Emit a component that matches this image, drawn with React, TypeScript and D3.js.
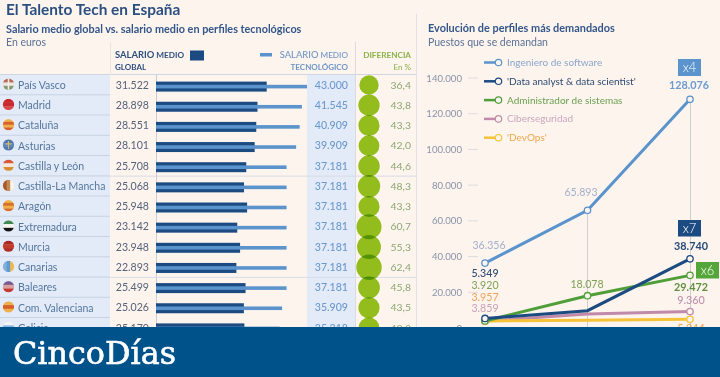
import React from "react";
import * as d3 from "d3";

const regions = ["País Vasco","Madrid","Cataluña","Asturias","Castilla y León","Castilla-La Mancha","Aragón","Extremadura","Murcia","Canarias","Baleares","Com. Valenciana","Galicia"];
const globalSalary = [31522,28898,28551,28101,25708,25068,25948,23142,23948,22893,25499,25026,25170];
const techSalary = [43000,41545,40909,39909,37181,37181,37181,37181,37181,37181,37181,35909,35218];
const diffPct = [36.4,43.8,43.3,42.0,44.6,48.3,43.3,60.7,55.3,62.4,45.8,43.5,42.3];
const flagStripes = [
  ["#b9664e","#d8d2c4","#7f9a70"],["#c8282e","#c8282e","#d84a4a"],["#eeb04a","#d8602a","#eeb04a","#d8602a"],
  ["#4f78b0","#5f88c0","#4f78b0"],["#d9583a","#f6e6dc","#d98a2e"],["#a8562e","#c08a50","#fbf4ea"],
  ["#eeb04a","#d8702a","#eeb04a","#d8702a"],["#3f8a50","#f8f6f0","#141414"],["#a82a24","#c23c2c","#b03028"],
  ["#7fb0dc","#5f9ad0","#eeb84a"],["#7a5a90","#d8a0a0","#c83a30"],["#eeb04a","#d8602a","#eeb04a"],["#f4f4f4","#8ab8e0","#f4f4f4"],
];
const flagVertical = [false,false,false,false,false,true,false,false,false,true,false,false,false];
const salaryLabel = (v:number)=>d3.format(",")(v).replace(/,/g,".");

const yTicks = [0,20000,40000,60000,80000,100000,120000,140000];
const xSteps = ["a","b","c"];
const software = [36356,65893,128076];
const dataAnalyst = [5349,9700,38740];
const sysAdmin = [3920,18078,29472];
const cyber = [3859,7800,9200];
const devops = [3957,4400,4900];
const legendNames = ["Ingeniero de software","'Data analyst & data scientist'","Administrador de sistemas","Ciberseguridad","'DevOps'"];

const BLUE="#5b93cc", NAVY="#1c4b82", GREEN="#4f9e3a", PINK="#c08aa8", YEL="#f6c338";
const BG="#fdf4ee";
const FONT="Lato, 'Open Sans', sans-serif";

export default function App(){
  const rowY = d3.scaleLinear().domain([0,12]).range([85,328]);
  const barY = d3.scaleLinear().domain([0,12]).range([86.6,328.4]);
  const barX = d3.scaleLinear().domain([0,43000]).range([156,307]);
  const rad = d3.scaleSqrt().domain([0,36.4]).range([0,9.7]);
  const y = d3.scaleLinear().domain([0,140000]).range([328,78]);
  const x = d3.scalePoint().domain(xSteps).range([485,690]);
  const line = d3.line<number>().x((_,i)=>x(xSteps[i])!).y(d=>y(d));
  const series = [
    {v:cyber,c:PINK},{v:devops,c:YEL},{v:sysAdmin,c:GREEN},{v:software,c:BLUE},{v:dataAnalyst,c:NAVY},
  ];
  const legendCols=[BLUE,NAVY,GREEN,PINK,YEL];
  const legendText=["#8aa6cc","#2c4a70","#6aa050","#c8a8bc","#eda848"];
  return (
    <svg width={720} height={377} style={{position:"absolute",left:0,top:0,fontFamily:FONT}}>
      <defs>
        {regions.map((r,i)=><clipPath key={r} id={`flag${i}`}><circle cx={8.5} cy={rowY(i)-0.8} r={5.6}/></clipPath>)}
      </defs>
      <rect width={720} height={377} fill={BG}/>
      <rect x={0} y={75} width={110} height={260} fill="#e2ebf7"/>
      <rect x={307} y={75} width={48} height={260} fill="#e2ebf7"/>
      <line x1={0} x2={417} y1={74.5} y2={74.5} stroke="#cfd6e2"/>
      {regions.map((_,i)=> i>0 && <line key={i} x1={0} x2={110} y1={rowY(i)-10.5} y2={rowY(i)-10.5} stroke="#c8d3e4"/>)}
      {[4.5,9.5].map(i=><line key={i} x1={0} x2={417} y1={rowY(i)} y2={rowY(i)} stroke="#d8dde6"/>)}
      <line x1={156.5} x2={156.5} y1={75} y2={335} stroke="#c9ccd4"/>
      <line x1={355.5} x2={355.5} y1={42} y2={335} stroke="#d8dbe2"/>
      <line x1={110.5} x2={110.5} y1={42} y2={75} stroke="#ece4df"/>
      <line x1={416.5} x2={416.5} y1={14} y2={335} stroke="#dfe1e6"/>

      <text x={6} y={15} fontSize={15.4} fontWeight={700} fill="#2a4f80">El Talento Tech en España</text>
      <text x={6} y={33} fontSize={10.85} fontWeight={700} fill="#33568a">Salario medio global vs. salario medio en perfiles tecnológicos</text>
      <text x={6} y={46} fontSize={10.5} fill="#5a7294">En euros</text>

      <text x={115} y={58} fontWeight={700} fill="#2d5080"><tspan fontSize={9.4}>SALARIO</tspan><tspan fontSize={8.2}> MEDIO</tspan></text>
      <text x={115} y={70} fontSize={8} fontWeight={700} fill="#2d5080">GLOBAL</text>
      <rect x={190} y={50.5} width={14} height={10} fill={NAVY}/>
      <rect x={260} y={53} width={12} height={3.5} fill={BLUE}/>
      <text x={348} y={58} textAnchor="end" fontWeight={500} fill="#6f96c6"><tspan fontSize={9.4}>SALARIO</tspan><tspan fontSize={8.2}> MEDIO</tspan></text>
      <text x={348} y={70} textAnchor="end" fontSize={8} fontWeight={700} fill="#6f96c6">TECNOLÓGICO</text>
      <text x={411} y={58} textAnchor="end" fontSize={8.2} fontWeight={700} fill="#8ab34a">DIFERENCIA</text>
      <text x={411} y={70} textAnchor="end" fontSize={8} fill="#8ab34a">En %</text>

      {regions.map((r,i)=>{
        const cy=rowY(i)-0.8;
        const st=flagStripes[i];
        const n=st.length;
        return <g key={r}>
          <g clipPath={`url(#flag${i})`}>
            {st.map((c,k)=> flagVertical[i]
              ? <rect key={k} x={3+k*11/n} y={cy-6} width={11/n+0.3} height={12} fill={c}/>
              : <rect key={k} x={2} y={cy-5.6+k*11.2/n} width={13} height={11.2/n+0.3} fill={c}/>)}
            {i===0 && <path d={`M8.5,${cy-6}V${cy+6}M2.5,${cy}H14.5`} stroke="#f4efe6" strokeWidth={1.6}/>}
            {i===3 && <path d={`M8.5,${cy-4}V${cy+4}M5.5,${cy-1}H11.5`} stroke="#d8b860" strokeWidth={1.2}/>}
          </g>
          <text x={18} y={rowY(i)+3.8} fontSize={10.5} fill="#55779f">{r}</text>
          <text x={149} y={rowY(i)+3.6} textAnchor="end" fontSize={10.6} fill="#566379">{salaryLabel(globalSalary[i])}</text>
          <rect x={156} y={barY(i)-5} width={barX(globalSalary[i])-156} height={10} fill={NAVY}/>
          <rect x={156} y={barY(i)-1.8} width={barX(techSalary[i])-156} height={3.6} fill={BLUE}/>
          <text x={348} y={rowY(i)+3.6} textAnchor="end" fontSize={10.6} fontWeight={500} fill="#6c99cf">{salaryLabel(techSalary[i])}</text>
        </g>;
      })}
      <g>
        {regions.map((r,i)=><circle key={r} cx={369} cy={rowY(i)} r={rad(diffPct[i])} fill="#93c61e" style={{mixBlendMode:"multiply"}}/>)}
      </g>
      {regions.map((r,i)=><text key={r} x={411} y={rowY(i)+3.6} textAnchor="end" fontSize={10.4} fill="#8aa870">{diffPct[i].toFixed(1).replace(".",",")}</text>)}

      <text x={428} y={32} fontSize={10.9} fontWeight={700} fill="#33568a">Evolución de perfiles más demandados</text>
      <text x={428} y={46} fontSize={10.5} fill="#5a7294">Puestos que se demandan</text>

      {yTicks.map(t=><g key={t}>
        <text x={462} y={y(t)+3.5} textAnchor="end" fontSize={9.6} fill="#8a93a8">{salaryLabel(t)}</text>
        <line x1={468} x2={478} y1={y(t)} y2={y(t)} stroke="#dcdcdf"/>
      </g>)}
      <line x1={587.5} x2={587.5} y1={y(software[1])} y2={335} stroke="#cfcfd2"/>
      <line x1={690.5} x2={690.5} y1={y(software[2])} y2={335} stroke="#cfcfd2"/>

      {legendNames.map((n,i)=>{
        const ly=62.5+i*18.8;
        return <g key={n}>
          <line x1={484} x2={498} y1={ly} y2={ly} stroke={legendCols[i]} strokeWidth={2.5}/>
          <circle cx={498.5} cy={ly} r={3.2} fill={BG} stroke={legendCols[i]} strokeWidth={1.2}/>
          <text x={507} y={ly+3.5} fontSize={10} fill={legendText[i]}>{n}</text>
        </g>;
      })}

      {series.map(s=><path key={s.c} d={line(s.v)!} fill="none" stroke={s.c} strokeWidth={3}/>)}
      {series.map(s=>s.v.map((d,i)=> (i===1 && s.c!==BLUE && s.c!==GREEN) ? null :
        <circle key={s.c+i} cx={x(xSteps[i])} cy={y(d)} r={3.2} fill={BG} stroke={s.c} strokeWidth={1.3}/>))}

      <text x={489} y={249} textAnchor="middle" fontSize={10.6} fill="#a3b1cb">36.356</text>
      <text x={485} y={277} textAnchor="middle" fontSize={10.6} fontWeight={500} fill="#2d4a72">5.349</text>
      <text x={485} y={289} textAnchor="middle" fontSize={10.6} fill="#7ca256">3.920</text>
      <text x={485} y={301} textAnchor="middle" fontSize={10.6} fill="#eda45a">3.957</text>
      <text x={485} y={312} textAnchor="middle" fontSize={10.6} fill="#c8a0b8">3.859</text>
      <text x={581} y={196} textAnchor="middle" fontSize={10.6} fill="#a3b1cb">65.893</text>
      <text x={587} y={288} textAnchor="middle" fontSize={10.6} fill="#7ca256">18.078</text>
      <text x={689} y={89} textAnchor="middle" fontSize={10.8} fontWeight={700} fill="#6c9bcf">128.076</text>
      <text x={691} y={250} textAnchor="middle" fontSize={10.8} fontWeight={700} fill="#264a78">38.740</text>
      <text x={691} y={291} textAnchor="middle" fontSize={10.8} fontWeight={700} fill="#5f9040">29.472</text>
      <text x={691} y={304} textAnchor="middle" fontSize={10.8} fontWeight={500} fill="#c090b0">9.360</text>
      <text x={691} y={332} textAnchor="middle" fontSize={10.8} fontWeight={500} fill="#eda848">5.344</text>

      <rect x={678} y={59} width={23} height={17} fill={BLUE}/>
      <text x={689.5} y={72} textAnchor="middle" fontSize={13} fontWeight={300} fill="#fff">x4</text>
      <rect x={678} y={220} width={23} height={16.5} fill={NAVY}/>
      <text x={689.5} y={233} textAnchor="middle" fontSize={13} fontWeight={300} fill="#fff">x7</text>
      <rect x={696} y={262} width={23} height={16.5} fill="#55a63a"/>
      <text x={707.5} y={275} textAnchor="middle" fontSize={13} fontWeight={300} fill="#fff">x6</text>

      <rect x={0} y={327} width={720} height={50} fill="#00528a"/>
      <text x={13} y={364} fontSize={31} textLength={163} lengthAdjust="spacingAndGlyphs" fontFamily="'DejaVu Serif', serif" fill="#fff" stroke="#fff" strokeWidth={0.6}>CincoDías</text>
    </svg>
  );
}
